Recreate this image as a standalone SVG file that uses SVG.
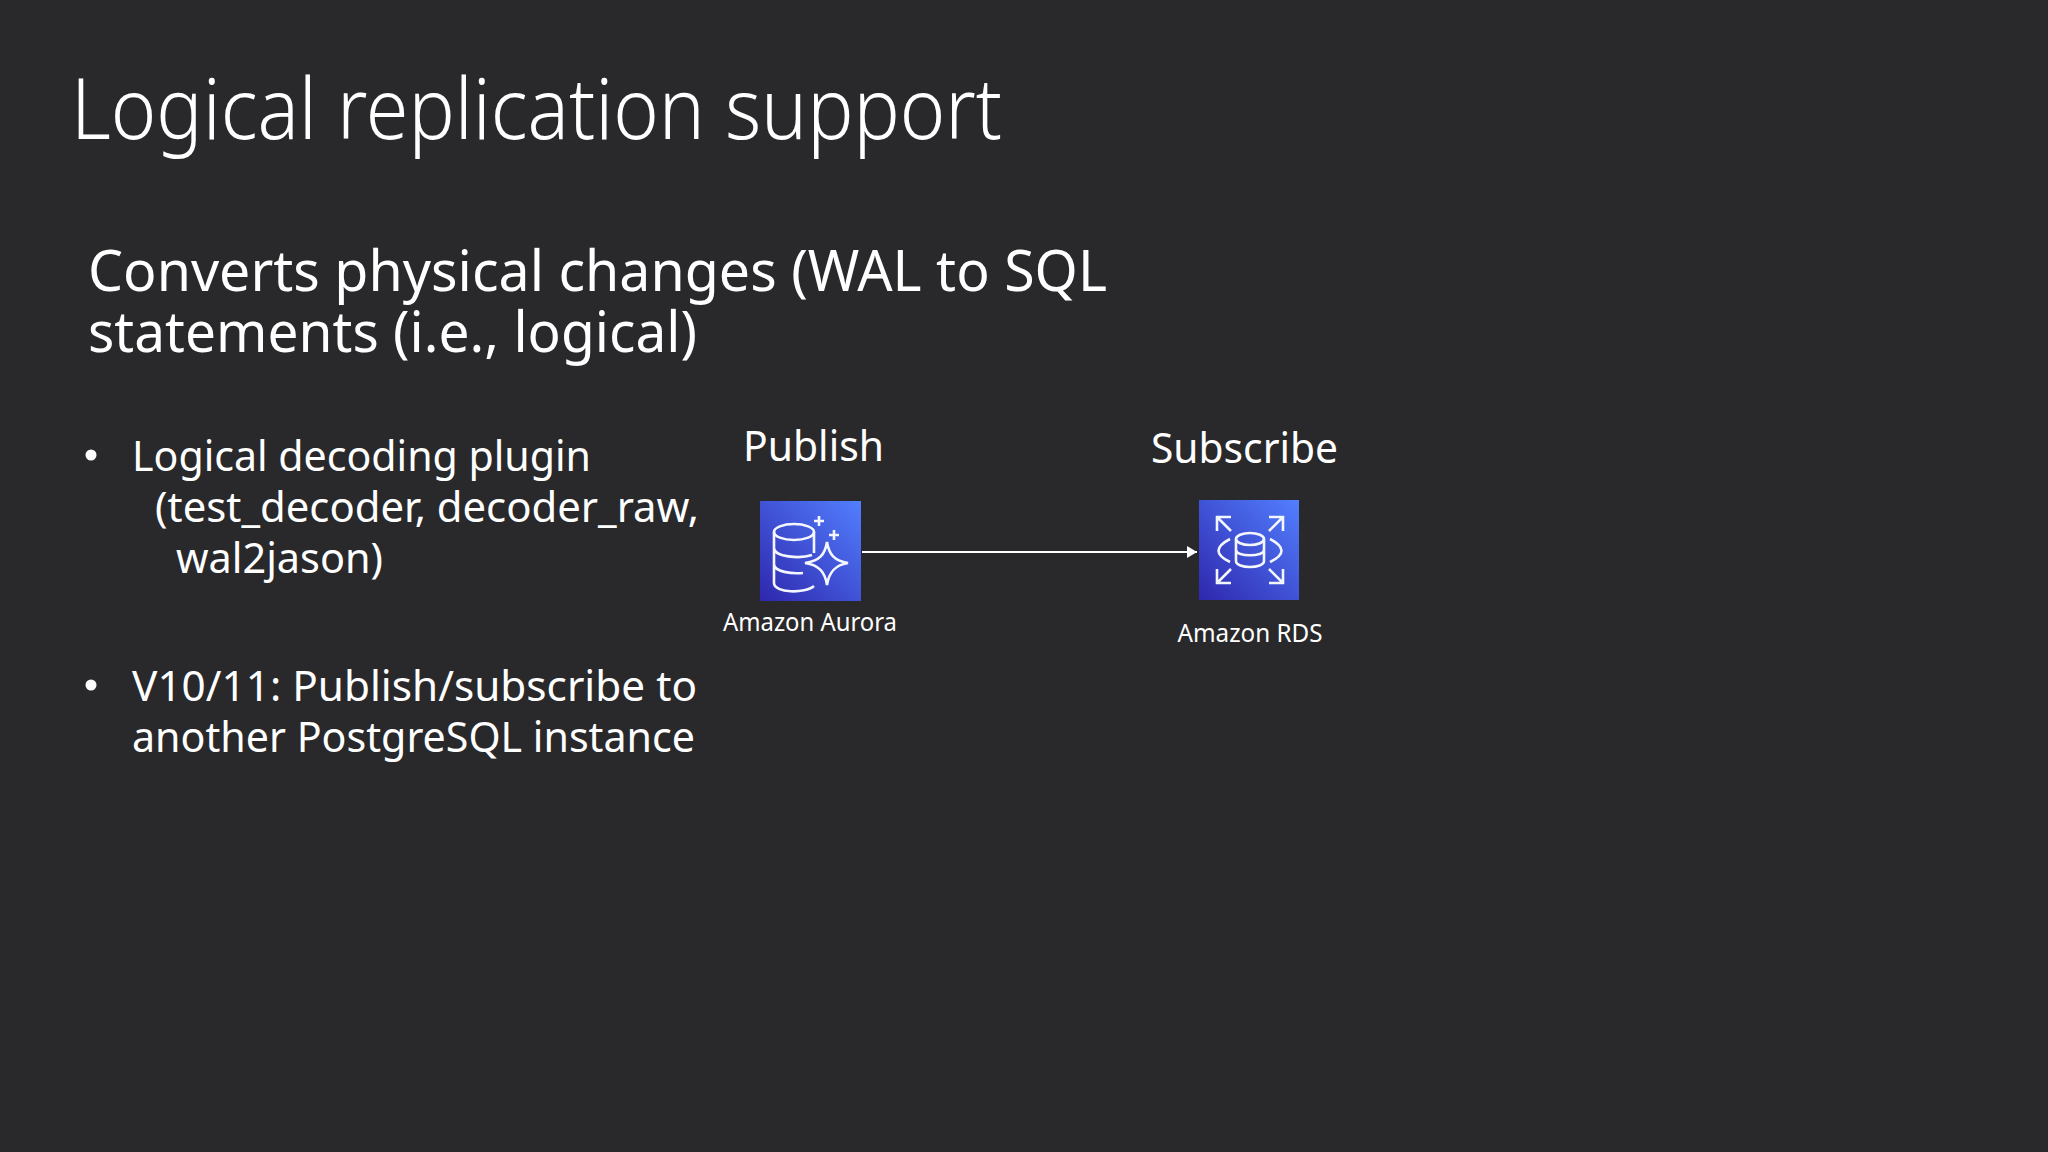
<svg xmlns="http://www.w3.org/2000/svg" width="2048" height="1152" viewBox="0 0 2048 1152">
<defs><linearGradient id="g" x1="0" y1="1" x2="1" y2="0"><stop offset="0" stop-color="#2e27ad"/><stop offset="1" stop-color="#527fff"/></linearGradient>
<marker id="a" markerUnits="userSpaceOnUse" markerWidth="10" markerHeight="12" refX="10" refY="6" orient="auto"><path d="M0 0L10 6L0 12z" fill="#fff"/></marker></defs>
<style>text{font-family:"Noto Sans","Open Sans",sans-serif;fill:#fff}.b{font-size:41px}.c{font-size:25px}.i{fill:none;stroke:#f4f6ff;stroke-width:2.6}</style>
<rect width="2048" height="1152" fill="#29292b"/>
<text x="71" y="139" font-size="84" textLength="931" lengthAdjust="spacingAndGlyphs" style="font-weight:300">Logical replication support</text>
<text x="88" y="291" font-size="56" textLength="1019" lengthAdjust="spacingAndGlyphs">Converts physical changes (WAL to SQL</text>
<text x="88" y="352" font-size="56" textLength="609" lengthAdjust="spacingAndGlyphs">statements (i.e., logical)</text>
<circle cx="91" cy="455" r="5.5" fill="#fff"/><circle cx="91" cy="685" r="5.5" fill="#fff"/>
<text class="b" x="132" y="471" textLength="459" lengthAdjust="spacingAndGlyphs">Logical decoding plugin</text>
<text class="b" x="155" y="522" textLength="544" lengthAdjust="spacingAndGlyphs">(test_decoder, decoder_raw,</text>
<text class="b" x="176" y="573" textLength="207" lengthAdjust="spacingAndGlyphs">wal2jason)</text>
<text class="b" x="132" y="701" textLength="565" lengthAdjust="spacingAndGlyphs">V10/11: Publish/subscribe to</text>
<text class="b" x="132" y="752" textLength="563" lengthAdjust="spacingAndGlyphs">another PostgreSQL instance</text>
<g id="aurora"><rect x="760" y="501" width="101" height="100" fill="url(#g)"/>
<ellipse class="i" cx="794" cy="532" rx="20" ry="8"/><path class="i" d="M774 532V583C774 593 805 594 814 586M774 548C774 557 800 559 812 555M774 564C774 572 792 574 803 573M814 532V553"/><path class="i" d="M827 542C829 555 835 561 848 563C835 565 829 572 827 585C825 572 819 565 805 563C819 561 825 555 827 542Z"/><path class="i" d="M819 516v10M814 521h10M834 530v10M829 535h10"/>
<text class="c" x="810" y="631" text-anchor="middle" textLength="174" lengthAdjust="spacingAndGlyphs">Amazon Aurora</text></g>
<g id="rds"><rect x="1199" y="500" width="100" height="100" fill="url(#g)"/>
<ellipse class="i" cx="1250" cy="539" rx="14" ry="6"/><path class="i" d="M1236 539V561C1236 569 1264 569 1264 561V539M1236 550C1236 557 1264 557 1264 550M1230 539Q1207 551 1230 562M1270 539Q1293 551 1270 562M1217 531V517H1231M1217 517L1231 531M1283 531V517H1269M1283 517L1269 531M1217 569V583H1231M1217 583L1231 569M1283 569V583H1269M1283 583L1269 569"/>
<text class="c" x="1250" y="642" text-anchor="middle" textLength="145" lengthAdjust="spacingAndGlyphs">Amazon RDS</text></g>
<g id="publish"><text x="743" y="461" font-size="41" textLength="141" lengthAdjust="spacingAndGlyphs">Publish</text></g>
<g id="subscribe"><text x="1151" y="463" font-size="41" textLength="187" lengthAdjust="spacingAndGlyphs">Subscribe</text></g>
<g id="connectors"><path d="M862 552H1197" stroke="#fff" stroke-width="2" fill="none" marker-end="url(#a)"/></g>
</svg>
